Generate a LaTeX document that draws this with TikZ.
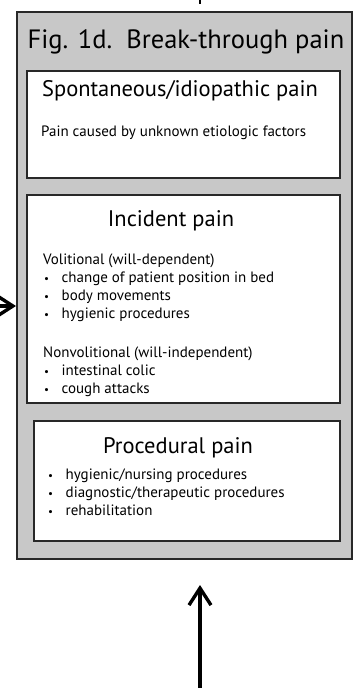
\documentclass[tikz,border=0pt]{standalone}
\usepackage{fontspec}
\setmainfont{PT Sans}
\usetikzlibrary{positioning,calc,arrows.meta}

\definecolor{panelgray}{RGB}{200,200,200}
\definecolor{edgegray}{RGB}{40,40,40}
\newcommand{\bitem}[1]{\makebox[18.5pt][l]{\kern1pt{\fontsize{11}{11}\selectfont\textbullet}}#1}

\begin{document}
\begin{tikzpicture}[
    x=1pt, y=-1pt,
    panel/.style={
        rectangle,
        draw=edgegray,
        line width=2pt,
        fill=panelgray,
        inner sep=0pt
      },
    card/.style={
        rectangle,
        draw=edgegray,
        line width=1.4pt,
        fill=white,
        inner sep=0pt
      },
    heading/.style={anchor=base, inner sep=0pt, font=\fontsize{22.5}{26}\selectfont},
    body/.style={anchor=base west, inner sep=0pt, align=left, font=\fontsize{15}{18}\selectfont},
    arrow/.style={-{Straight Barb[length=17pt,width=22pt,line width=3.4pt]},line width=3.4pt}
    ]

    \useasboundingbox (0,0) rectangle (353,688);

    % grey frame with its title
    \node[panel, minimum width=335pt, minimum height=547pt] (frame) at (184.5,285.5) {};
    \node[heading, font=\fontsize{26.5}{30}\selectfont] (title) at (186,48) {Fig. 1d.\ \ Break-through pain};

    % the three kinds of pain
    \node[card, minimum width=313pt, minimum height=107pt] (spont) at (183.5,124.5) {};
    \node[card, minimum width=313pt, minimum height=208pt] (incident) at (183.5,299) {};
    \node[card, minimum width=306pt, minimum height=120pt] (proc) at (187,481) {};

    \node[heading] (spontHead) at (180,96) {Spontaneous/idiopathic pain};
    \node[body] (spontText) at (41,136) {Pain caused by unknown etiologic factors};

    \node[heading] (incidentHead) at (171,226) {Incident pain};
    % base of a multi-line node is its last line
    \node[body] (incidentText) at (43,393) {Volitional (will-dependent)\\
        \bitem{change of patient position in bed}\\
        \bitem{body movements}\\
        \bitem{hygienic procedures}\\[21pt]
        Nonvolitional (will-independent)\\
        \bitem{intestinal colic}\\
        \bitem{cough attacks}};

    \node[heading] (procHead) at (178,453) {Procedural pain};
    \node[body] (procText) at (47,515) {\bitem{hygienic/nursing procedures}\\
        \bitem{diagnostic/therapeutic procedures}\\
        \bitem{rehabilitation}};

    % connectors
    \coordinate (topIn) at (200,0);
    \coordinate (leftIn) at (0,306);
    \coordinate (bottomIn) at (200,688);
    \draw[line width=2pt] (topIn) -- ++(0,4);
    \draw[arrow] (leftIn) -- (leftIn -| frame.west);
    \draw[arrow] (bottomIn) -- ++(0,-103);

  \end{tikzpicture}
\end{document}
